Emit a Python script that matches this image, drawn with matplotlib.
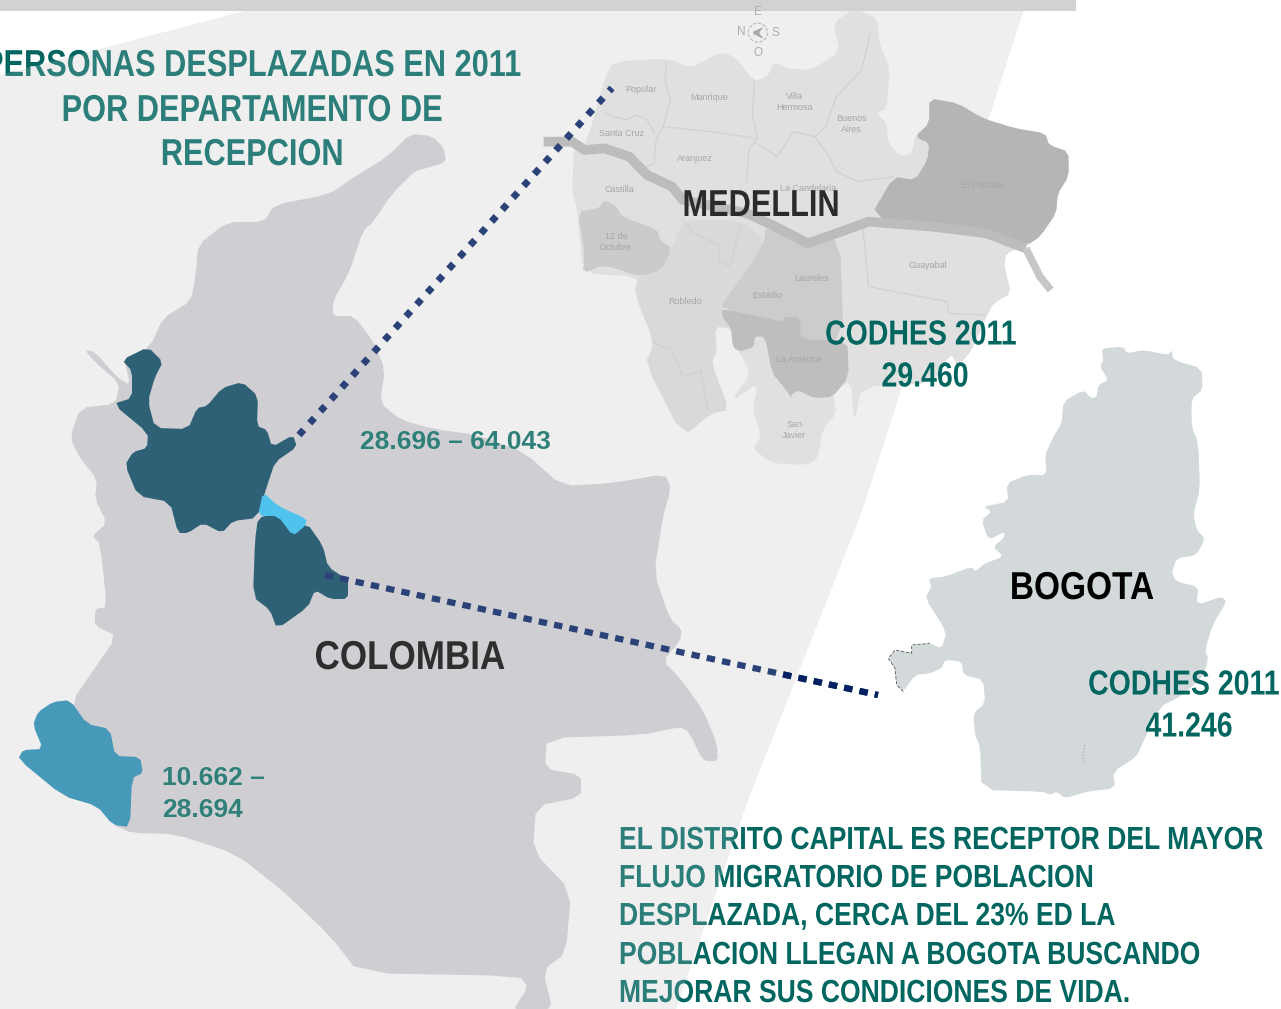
import matplotlib

matplotlib.use("Agg")
import matplotlib.pyplot as plt
from matplotlib.patches import Circle, Polygon, Rectangle
from matplotlib.patheffects import AbstractPathEffect
from matplotlib.transforms import Affine2D, Bbox

# everything below is in picture pixels, y going down
WIDTH, HEIGHT = 1281, 1009

BACKGROUND = [(0, 75), (245, 11), (245, 0), (1027, 0), (861, 514), (748, 800), (676, 1009), (0, 1009)]

COLOMBIA = [
    (410, 134), (432, 136), (444, 148), (446, 162), (427, 168), (415, 171), (392, 194), (373, 222), (363, 231),
    (349, 273), (333, 301), (333, 316), (354, 316), (373, 341), (385, 369), (380, 403), (401, 420), (434, 429),
    (477, 435), (524, 452), (562, 486), (613, 483), (665, 474), (671, 488), (663, 517), (654, 573),
    (670, 619), (682, 630), (680, 641), (663, 661), (680, 678), (703, 710), (717, 744), (718, 761),
    (703, 761), (689, 732), (680, 727), (642, 735), (547, 738), (545, 769), (581, 775), (581, 797),
    (536, 806), (533, 851), (571, 891), (566, 953), (543, 970), (553, 1012), (512, 1012), (528, 987),
    (519, 976), (359, 973), (330, 936), (283, 891), (236, 854), (175, 834), (132, 833), (113, 825),
    (73, 770), (73, 700), (88, 678), (117, 636), (95, 626), (95, 609), (107, 607), (100, 543),
    (92, 536), (107, 523), (95, 499), (97, 479), (80, 458), (70, 438), (80, 408), (115, 404),
    (120, 384), (95, 362), (85, 350), (95, 352), (118, 378), (130, 385), (124, 358), (150, 347),
    (163, 318), (191, 301), (196, 273), (198, 245), (227, 222), (264, 222), (274, 205), (330, 194),
    (354, 177), (387, 157),
]
ANTIOQUIA = [
    (148, 347), (163, 362), (155, 377), (148, 401), (155, 428), (188, 429), (197, 408), (207, 406),
    (222, 388), (242, 382), (258, 396), (257, 426), (267, 430), (272, 447), (293, 435), (297, 447),
    (275, 462), (267, 486), (257, 518), (233, 521), (222, 533), (203, 523), (188, 533), (178, 533),
    (170, 502), (138, 496), (125, 465), (133, 452), (147, 448), (148, 433), (113, 404), (132, 398),
    (132, 371), (122, 360),
]
CALDAS = [(263, 492), (278, 506), (307, 519), (305, 526), (293, 536), (278, 516), (258, 516)]
TOLIMA = [
    (258, 518), (277, 513), (293, 536), (307, 523), (323, 546), (328, 567), (348, 580), (348, 599),
    (330, 599), (315, 590), (308, 607), (277, 629), (270, 610), (253, 597), (255, 540),
]
NARINO = [
    (70, 700), (87, 724), (110, 729), (115, 756), (140, 757), (143, 773), (132, 778), (130, 827),
    (113, 825), (97, 806), (63, 796), (18, 759), (23, 750), (43, 749), (33, 725), (38, 712), (53, 702),
]

# medellin and bogota were traced on zoomed crops, see crop_px
MED_ORIGIN, MED_SCALE = (540, 0), (2.8, 3.0)
MED_OUTLINE = [
    (205, 185), (360, 175), (420, 205), (510, 155), (550, 175), (600, 245), (640, 225), (655, 185),
    (690, 205), (760, 210), (840, 155), (820, 70), (880, 25), (945, 55), (950, 130), (980, 205),
    (970, 330), (940, 335), (970, 370), (975, 430), (1010, 470), (1040, 460), (1050, 410), (1090, 370),
    (1090, 295), (1170, 310), (1240, 355), (1330, 385), (1415, 400), (1425, 435), (1480, 455),
    (1480, 530), (1450, 580), (1445, 640), (1400, 710), (1365, 735), (1305, 760), (1300, 800),
    (1320, 880), (1270, 910), (1250, 950), (1210, 1050), (1170, 1100), (1150, 1060), (1100, 1150),
    (900, 1160), (880, 1270), (870, 1140), (820, 1180), (830, 1240), (790, 1290), (780, 1370),
    (750, 1395), (650, 1390), (595, 1345), (620, 1310), (595, 1230), (610, 1150), (535, 1205),
    (590, 1120), (560, 1060), (540, 1040), (535, 985), (490, 980), (495, 1050), (480, 1090),
    (530, 1230), (480, 1240), (400, 1310), (295, 1090), (320, 1030), (265, 880), (275, 830),
    (120, 820), (105, 635), (90, 570), (95, 440), (130, 430), (180, 240),
]
MED_POBLADO = [
    (925, 650), (990, 530), (1050, 540), (1085, 480), (1090, 430), (1050, 410), (1090, 370),
    (1090, 295), (1170, 310), (1240, 355), (1330, 385), (1415, 400), (1425, 435), (1480, 455),
    (1480, 530), (1450, 580), (1445, 640), (1400, 710), (1365, 735), (1250, 695), (1100, 675),
]
MED_LAURELES = [
    (630, 680), (750, 730), (840, 715), (850, 1020), (730, 1020), (730, 950), (685, 950), (680, 965),
    (510, 925), (510, 910), (580, 810), (630, 720),
]
MED_AMERICA = [
    (510, 925), (680, 965), (685, 950), (730, 950), (730, 1020), (860, 1020), (865, 1130), (820, 1190),
    (770, 1195), (720, 1170), (700, 1190), (720, 1225), (690, 1170), (650, 1120), (630, 1010),
    (600, 1010), (600, 1040), (560, 1055), (540, 1040), (535, 985), (510, 950),
]
MED_OCTUBRE = [
    (105, 635), (165, 625), (180, 600), (215, 620), (230, 650), (330, 690), (335, 720), (370, 745),
    (340, 810), (280, 830), (180, 795), (120, 820), (125, 760),
]
MED_ROBLEDO = [
    (370, 745), (400, 660), (560, 660), (630, 720), (580, 810), (510, 910), (510, 950), (535, 985),
    (490, 980), (495, 1050), (480, 1090), (530, 1230), (480, 1240), (400, 1310), (295, 1090),
    (320, 1030), (265, 880), (275, 830), (340, 810),
]
MED_RIVER = [
    (10, 425), (90, 425), (125, 450), (180, 445), (250, 470), (300, 525), (370, 560), (400, 600),
    (580, 640), (650, 675), (750, 730), (830, 700), (920, 665), (1100, 680), (1250, 700), (1360, 745),
]
MED_RIVER_TAIL = [(1360, 745), (1400, 830), (1430, 870)]
MED_BORDERS = [
    [(355, 185), (350, 240), (365, 300), (345, 380), (325, 420), (320, 490), (300, 500)],
    [(345, 380), (480, 395), (605, 415)],
    [(600, 245), (595, 350), (610, 415), (585, 445), (578, 550)],
    [(605, 430), (665, 470), (710, 395), (770, 410), (810, 470), (830, 515), (890, 545), (990, 530)],
    [(770, 410), (800, 380), (830, 290), (900, 210), (925, 100)],
    [(180, 340), (240, 360), (270, 345), (300, 360), (320, 400)],
    [(905, 690), (920, 860), (1140, 905), (1145, 940), (1250, 945)],
    [(400, 660), (430, 700), (500, 735), (500, 780), (530, 800), (565, 670)],
    [(320, 1030), (370, 1050), (400, 1130), (450, 1110), (470, 1230)],
]
MED_LABELS = ["Popular", "Manrique", "Villa\nHermosa", "Buenos\nAires", "Santa Cruz", "Aranjuez", "Castilla",
              "12 de\nOctubre", "La Candelaria", "El Poblado", "Guayabal", "Laureles", "Estadio", "Robledo",
              "La América", "San\nJavier"]
MED_LABEL_POS = [(282, 267), (473, 293), (713, 305), (872, 373), (228, 400), (435, 475), (223, 568), (213, 725),
                 (750, 565), (1240, 555), (1085, 798), (760, 835), (637, 888), (407, 903), (725, 1080), (712, 1290)]
COMPASS_LABELS = ["E", "N", "S", "O"]
COMPASS_POS = [(610, 35), (563, 95), (660, 98), (610, 160)]
COMPASS_ARROW = [(590, 98), (628, 80), (612, 98), (628, 118)]

BOG_ORIGIN, BOG_SCALE = (860, 330), (3.0, 3.0)
BOGOTA = [
    (725, 55), (790, 50), (800, 70), (850, 60), (925, 75), (935, 60), (940, 90), (1025, 115), (1028, 180),
    (995, 205), (995, 290), (1015, 340), (1020, 480), (1000, 550), (1010, 600), (1035, 625), (1010, 675),
    (950, 685), (935, 730), (950, 755), (1015, 770), (1010, 825), (1085, 800), (1100, 815), (1060, 880),
    (1035, 960), (1045, 985), (1030, 1040), (960, 1100), (900, 1130), (850, 1235), (830, 1280), (760, 1325),
    (765, 1375), (680, 1385), (615, 1405), (590, 1385), (570, 1395), (550, 1385), (365, 1380), (360, 1250),
    (345, 1215), (340, 1150), (375, 1120), (370, 1050), (310, 1035), (305, 995), (255, 990), (245, 1015),
    (210, 1030), (165, 1035), (130, 1085), (110, 1065), (105, 1015), (85, 985), (105, 960), (155, 970),
    (155, 945), (210, 940), (245, 955), (260, 905), (195, 805), (215, 770), (205, 745), (255, 740),
    (335, 710), (345, 725), (375, 700), (430, 680), (400, 650), (430, 625), (435, 605), (385, 630),
    (365, 570), (395, 545), (370, 530), (445, 515), (440, 460), (500, 435), (560, 435), (555, 375),
    (580, 320), (605, 280), (610, 215), (670, 180), (695, 205), (710, 200), (715, 165), (745, 150),
    (720, 110), (730, 90),
]
BOG_EDGE = [(130, 1085), (110, 1065), (105, 1015), (85, 985), (105, 960), (155, 970), (155, 945), (210, 940)]
BOG_SPECKS = [(675, 1245), (668, 1280), (672, 1305)]

LINK_MEDELLIN = [(299, 435), (612, 88)]
LINK_BOGOTA = [(325, 575), (878, 695)]

TITLE_LINES = ["PERSONAS DESPLAZADAS EN 2011", "POR DEPARTAMENTO DE", "RECEPCION"]
TITLE_Y = [66, 111, 155]
NOTE_LINES = [
    "EL DISTRITO CAPITAL ES RECEPTOR DEL MAYOR",
    "FLUJO MIGRATORIO DE POBLACION",
    "DESPLAZADA, CERCA DEL 23% ED LA",
    "POBLACION LLEGAN A BOGOTA BUSCANDO",
    "MEJORAR SUS CONDICIONES DE VIDA.",
]
NOTE_Y = [841, 879, 917, 956, 994]

FONT = "Liberation Sans"
DARK_TEAL = "#00665f"
LABEL_TEAL = "#2e8079"


class Squeeze(AbstractPathEffect):
    """Narrow the glyphs around one x, there is no Arial Narrow here."""

    def __init__(self, factor, anchor_x):
        super().__init__()
        self.factor = factor
        self.anchor_x = anchor_x

    def draw_path(self, renderer, gc, tpath, affine, rgbFace=None):
        squeeze = Affine2D().translate(-self.anchor_x, 0).scale(self.factor, 1).translate(self.anchor_x, 0)
        renderer.draw_path(gc, tpath, affine + squeeze, rgbFace)


def narrow_text(ax, x, y, line, fontsize, factor=0.82, **kwargs):
    text = ax.text(x, y, line, fontsize=fontsize, family=FONT, weight="bold", va="center", **kwargs)
    text.set_path_effects([Squeeze(factor, x)])
    full_extent = text.get_window_extent

    def narrow_extent(renderer=None, dpi=None):
        box = full_extent(renderer, dpi)
        return Bbox.from_extents(x + (box.x0 - x) * factor, box.y0, x + (box.x1 - x) * factor, box.y1)

    text.get_window_extent = narrow_extent
    return text


def crop_px(points, origin, scale):
    return [(origin[0] + x / scale[0], origin[1] + y / scale[1]) for x, y in points]


def soften(points, cut=0.18):
    out = []
    for (x0, y0), (x1, y1) in zip(points, points[1:] + points[:1]):
        out.append((x0 + (x1 - x0) * cut, y0 + (y1 - y0) * cut))
        out.append((x1 - (x1 - x0) * cut, y1 - (y1 - y0) * cut))
    return out


def fill(ax, points, color, zorder):
    ax.add_patch(Polygon(soften(points), closed=True, facecolor=color, edgecolor="none", zorder=zorder))


def polyline(ax, points, **kwargs):
    xs, ys = zip(*points)
    return ax.plot(xs, ys, **kwargs)[0]


def main() -> None:
    fig = plt.figure(figsize=(WIDTH / 100, HEIGHT / 100), dpi=100, facecolor="white")
    ax = fig.add_axes([0, 0, 1, 1])
    ax.set_xlim(0, WIDTH)
    ax.set_ylim(HEIGHT, 0)
    ax.axis("off")

    ax.add_patch(Polygon(BACKGROUND, closed=True, facecolor="#efefef", edgecolor="none", zorder=1))

    # teal text sits under the translucent wedge, it goes paler on the grey side
    for line, y in zip(TITLE_LINES, TITLE_Y):
        narrow_text(ax, 252, y, line, 27, color=DARK_TEAL, ha="center", zorder=2)
    for line, y in zip(NOTE_LINES, NOTE_Y):
        narrow_text(ax, 619, y, line, 23, factor=0.83, color=DARK_TEAL, ha="left", zorder=2)
    ax.add_patch(Polygon(BACKGROUND, closed=True, facecolor="#f0f0f0", edgecolor="none", alpha=0.18, zorder=3))

    # medellin
    med = lambda pts: crop_px(pts, MED_ORIGIN, MED_SCALE)
    fill(ax, med(MED_OUTLINE), "#e0e0e0", 4)
    fill(ax, med(MED_ROBLEDO), "#d9d9d9", 4.1)
    fill(ax, med(MED_OCTUBRE), "#cbcbcb", 4.2)
    fill(ax, med(MED_LAURELES), "#cccccc", 4.2)
    fill(ax, med(MED_AMERICA), "#bebebe", 4.3)
    fill(ax, med(MED_POBLADO), "#b5b5b5", 4.2)
    for border in MED_BORDERS:
        polyline(ax, med(border), color="#d0d0d0", lw=0.8, zorder=4.4)
    polyline(ax, med(MED_RIVER), color="#bcbcbc", lw=7, solid_joinstyle="round", solid_capstyle="butt", zorder=4.5)
    polyline(ax, med(MED_RIVER_TAIL), color="#c6c6c6", lw=5.5, solid_capstyle="butt", zorder=4.5)
    for label, pos in zip(MED_LABELS, med(MED_LABEL_POS)):
        ax.text(pos[0], pos[1], label, fontsize=6.5, family=FONT, color="#a6a6a6",
                ha="center", va="center", linespacing=1.25, zorder=4.6)
    for label, pos in zip(COMPASS_LABELS, med(COMPASS_POS)):
        ax.text(pos[0], pos[1], label, fontsize=8.5, family=FONT, color="#adadad",
                ha="center", va="center", zorder=10)
    center = med([(610, 98)])[0]
    ax.add_patch(Circle(center, 9.5, fill=False, edgecolor="#b8b8b8", lw=0.8, ls=(0, (3, 1.5)), zorder=4.6))
    fill(ax, med(COMPASS_ARROW), "#a8a8a8", 4.7)

    # bogota
    bog = lambda pts: crop_px(pts, BOG_ORIGIN, BOG_SCALE)
    fill(ax, bog(BOGOTA), "#d3d9db", 4)
    polyline(ax, bog(BOG_EDGE), color="#555555", lw=0.6, ls=(0, (4, 2)), zorder=4.2)
    polyline(ax, bog(BOG_SPECKS), color="#9a9a9a", lw=0.8, ls=(0, (1, 2)), zorder=4.2)

    # colombia
    fill(ax, COLOMBIA, "#cfcfd3", 6)
    fill(ax, ANTIOQUIA, "#2f6176", 6.1)
    fill(ax, TOLIMA, "#2f6176", 6.1)
    fill(ax, CALDAS, "#4fc3ee", 6.2)
    fill(ax, NARINO, "#4699b9", 6.1)

    # dotted links
    polyline(ax, LINK_MEDELLIN, color="#2b4279", lw=5, ls=(0, (1.0, 1.3)), dash_capstyle="butt", zorder=7)
    polyline(ax, LINK_BOGOTA, color="#2b4279", lw=4.5, ls=(0, (1.35, 1.15)), dash_capstyle="butt", zorder=7)
    dark_end = polyline(ax, LINK_BOGOTA, color="#002060", lw=4.5, ls=(0, (1.35, 1.15)), dash_capstyle="butt", zorder=7.1)
    dark_end.set_clip_path(Rectangle((780, 600), 120, 120, transform=ax.transData))

    narrow_text(ax, 761, 206, "MEDELLIN", 27, color="#2b2b2b", ha="center", zorder=8)
    narrow_text(ax, 410, 658, "COLOMBIA", 29, factor=0.87, color="#2e2e2e", ha="center", zorder=8)
    narrow_text(ax, 1082, 589, "BOGOTA", 28, factor=0.86, color="#000000", ha="center", zorder=8)
    for line, x, y in [("CODHES 2011", 921, 335), ("29.460", 925, 377), ("CODHES 2011", 1184, 685), ("41.246", 1189, 727)]:
        narrow_text(ax, x, y, line, 25, color=DARK_TEAL, ha="center", zorder=8)
    for line, x, y in [("28.696 – 64.043", 360, 442), ("10.662 –", 162, 778), ("28.694", 162, 810)]:
        ax.text(x, y, line, fontsize=19, family=FONT, weight="bold", color=LABEL_TEAL, ha="left", va="center", zorder=8)

    # top bar
    ax.add_patch(Rectangle((0, 0), 1076, 11, facecolor="#d2d2d2", edgecolor="none", zorder=9))

    fig.savefig("out.png", dpi=100, facecolor="white")
    plt.close(fig)


if __name__ == "__main__":
    main()
